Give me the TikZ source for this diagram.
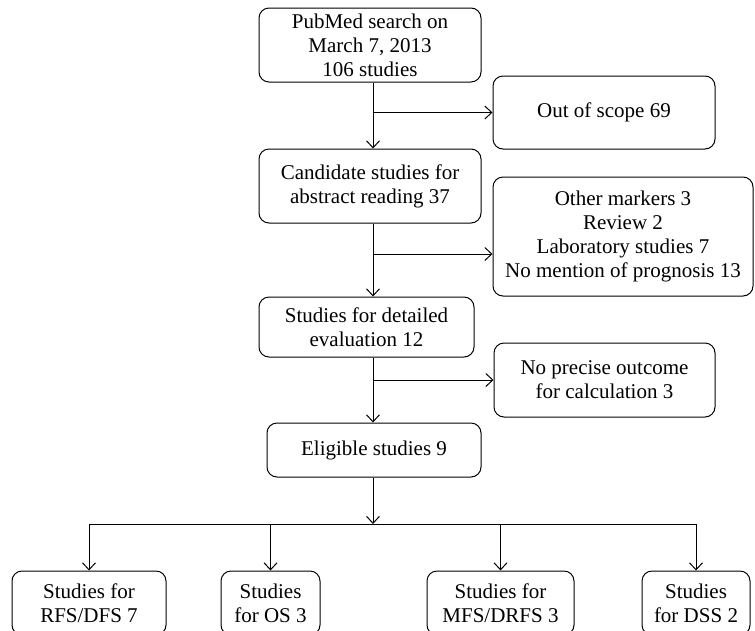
\documentclass[tikz,border=0pt]{standalone}
\usepackage{fontspec}
\setmainfont{Liberation Serif}
\usetikzlibrary{arrows.meta}
\begin{document}
\begin{tikzpicture}[x=1pt, y=-1pt, line width=1pt, font=\fontsize{21}{24}\selectfont]
    \tikzset{ stage/.style={draw, rounded corners=10pt, align=center, inner sep=2pt},
              link/.style={-{Straight Barb[length=7pt, width=13pt]}} }
    \useasboundingbox (0,0) rectangle (755,630);
    % main column
    \node[stage, minimum width=222pt, minimum height=74pt] (search) at (370,45) {PubMed search on\\March 7, 2013\\106 studies};
    \node[stage, minimum width=222pt, minimum height=74pt] (candidate) at (370,186) {Candidate studies for\\abstract reading 37};
    \node[stage, minimum width=215pt, minimum height=60pt] (detailed) at (366.5,327) {Studies for detailed\\evaluation 12};
    \node[stage, minimum width=214pt, minimum height=54pt] (eligible) at (374,450) {Eligible studies 9};
    % excluded
    \node[stage, minimum width=222pt, minimum height=73pt] (scope) at (604,112.5) {Out of scope 69};
    \node[stage, minimum width=260pt, minimum height=119pt] (markers) at (623,236.5) {Other markers 3\\Review 2\\Laboratory studies 7\\No mention of prognosis 13};
    \node[stage, minimum width=221pt, minimum height=74pt] (outcome) at (604.5,380) {No precise outcome\\for calculation 3};
    % outcomes
    \node[stage, minimum width=154pt, minimum height=64pt] (rfs) at (89,603) {Studies for\\RFS/DFS 7};
    \node[stage, minimum width=99pt, minimum height=64pt] (os) at (270.5,603) {Studies\\for OS 3};
    \node[stage, minimum width=147pt, minimum height=64pt] (mfs) at (500.5,603) {Studies for\\MFS/DRFS 3};
    \node[stage, minimum width=108pt, minimum height=64pt] (dss) at (696,603) {Studies\\for DSS 2};

    \coordinate (trunk) at (373,0);
    \coordinate (split) at (373,254);
    \coordinate (bus) at (373,524);

    \draw[link] (search.south -| trunk) -- (candidate.north -| trunk);
    \draw[link] (scope.west -| trunk) -- (scope.west);
    \draw[link] (candidate.south -| trunk) -- (detailed.north -| trunk);
    \draw[link] (split) -- (split -| markers.west);
    \draw[link] (detailed.south -| trunk) -- (eligible.north -| trunk);
    \draw[link] (outcome.west -| trunk) -- (outcome.west);
    \draw[link] (eligible.south -| trunk) -- (bus);
    \draw (bus -| rfs.north) -- (bus -| dss.north);
    \foreach \n in {rfs, os, mfs, dss}
        \draw[link] (bus -| \n.north) -- (\n.north);
\end{tikzpicture}
\end{document}
